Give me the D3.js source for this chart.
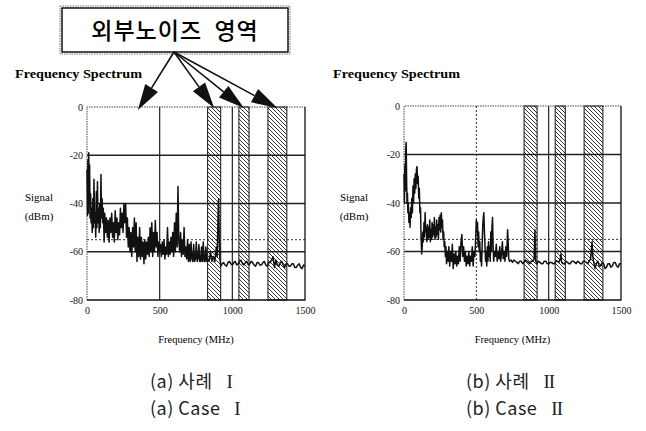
<!DOCTYPE html>
<html>
<head>
<meta charset="utf-8">
<script src="https://cdn.jsdelivr.net/npm/d3@7"></script>
<style>
  body { margin: 0; background: #fff; }
  .tick text { font-family: "Liberation Serif", serif; font-size: 10px; fill: #111; }
</style>
</head>
<body>
<div id="chart"></div>
<script>
// axis ticks
const freqTicks = [0, 500, 1000, 1500];
const dbTicks = [0, -20, -40, -60, -80];
// hatched external-noise bands (MHz)
const noiseBands = [[830, 920], [1045, 1115], [1245, 1375]];
// dotted reference level (dBm)
const refLevel = -55;
// where the arrows from the label box point (MHz, along top of left plot)
const arrowTargets = [350, 875, 1080, 1310];

// spectrum traces: [MHz, dBm]
const caseI = [
  [0,-26],[3,-45],[6,-22],[9,-44],[12,-19],[15,-40],[18,-24],[21,-46],[25,-36],[28,-48],
  [32,-42],[36,-52],[40,-38],[44,-50],[48,-30],[52,-48],[56,-44],[60,-54],[64,-35],[68,-50],
  [72,-31],[76,-48],[80,-42],[84,-52],[88,-40],[92,-50],[96,-28],[100,-46],[104,-38],[108,-48],
  [112,-42],[118,-56],[122,-44],[128,-52],[134,-46],[140,-54],[146,-47],[152,-56],[158,-46],[164,-52],
  [170,-44],[176,-54],[182,-48],[188,-56],[194,-43],[200,-52],[206,-46],[212,-55],[218,-48],[224,-53],
  [230,-42],[236,-50],[242,-44],[248,-52],[254,-40],[260,-48],[266,-40],[272,-54],[278,-46],[284,-58],
  [290,-50],[296,-60],[302,-52],[308,-62],[314,-50],[320,-58],[326,-46],[332,-60],[338,-48],[344,-64],
  [350,-54],[356,-62],[362,-50],[368,-63],[374,-54],[380,-62],[386,-56],[392,-65],[398,-55],[404,-63],
  [410,-56],[416,-61],[422,-54],[428,-62],[434,-50],[440,-60],[446,-48],[452,-62],[458,-52],[464,-60],
  [470,-47],[476,-58],[482,-52],[488,-62],[494,-56],[500,-60],[506,-57],[512,-62],[518,-56],[524,-61],
  [530,-55],[536,-63],[542,-58],[548,-61],[554,-50],[560,-62],[566,-56],[572,-61],[578,-54],[584,-60],
  [590,-52],[596,-62],[602,-48],[608,-60],[614,-44],[620,-58],[626,-33],[632,-56],[638,-60],[644,-52],
  [650,-62],[656,-55],[662,-61],[668,-50],[674,-62],[680,-58],[686,-63],[692,-55],[698,-64],[704,-57],
  [710,-64],[716,-56],[722,-63],[728,-64],[734,-57],[740,-64],[746,-63],[752,-56],[758,-64],[764,-63],
  [770,-57],[776,-64],[782,-64],[788,-58],[794,-64],[800,-56],[806,-64],[812,-64],[818,-58],[824,-64],
  [830,-63],[840,-64],[850,-60],[860,-64],[870,-62],[880,-64],[890,-58],[896,-62],[902,-44],[906,-38],
  [910,-55],[914,-62],[920,-66],[930,-65],[940,-64.5],[950,-65.5],[960,-66],[970,-64.5],[980,-64],[990,-65],
  [1000,-65.5],[1010,-64.5],[1020,-64],[1030,-65.5],[1040,-65],[1050,-64],[1060,-63.5],[1070,-65],[1080,-65.5],[1090,-64.5],
  [1100,-64],[1110,-65.5],[1120,-65],[1130,-64],[1140,-64.5],[1150,-65.5],[1160,-66],[1170,-64.5],[1180,-64.5],[1190,-65.5],
  [1200,-65.5],[1210,-64.5],[1220,-64],[1230,-65.5],[1240,-66],[1250,-64.5],[1260,-64.5],[1270,-63.5],[1280,-62],[1290,-66.5],
  [1300,-63.5],[1310,-65.5],[1320,-66],[1330,-64.5],[1340,-64],[1350,-65.5],[1360,-66.5],[1370,-65],[1380,-65],[1390,-66],
  [1400,-66],[1410,-65],[1420,-65],[1430,-66.5],[1440,-66.5],[1450,-65.5],[1460,-65],[1470,-66.5],[1480,-67],[1490,-65.5],
  [1500,-66]
];

const caseII = [
  [0,-28],[3,-40],[6,-24],[9,-35],[12,-18],[15,-15],[18,-30],[21,-40],[24,-36],[27,-44],
  [30,-40],[34,-48],[38,-44],[42,-50],[46,-42],[50,-46],[54,-38],[58,-44],[62,-33],[66,-40],
  [70,-30],[74,-36],[78,-28],[82,-34],[86,-26],[90,-25],[94,-32],[98,-29],[102,-38],[106,-34],
  [110,-44],[114,-42],[118,-54],[122,-61],[126,-58],[130,-52],[134,-56],[138,-48],[142,-54],[146,-44],
  [150,-52],[154,-50],[158,-56],[162,-49],[166,-55],[170,-50],[174,-54],[178,-47],[182,-56],[186,-51],
  [190,-55],[194,-48],[198,-54],[202,-49],[206,-53],[210,-46],[214,-55],[218,-50],[222,-54],[226,-47],
  [230,-53],[234,-49],[238,-55],[242,-46],[246,-51],[250,-45],[254,-52],[258,-44],[262,-50],[266,-47],
  [270,-55],[274,-52],[278,-58],[282,-56],[286,-62],[290,-58],[294,-65],[298,-60],[304,-64],[310,-58],
  [316,-66],[322,-60],[328,-64],[334,-57],[340,-67],[346,-61],[352,-65],[358,-60],[364,-66],[370,-62],
  [376,-65],[382,-58],[388,-64],[394,-56],[400,-53],[406,-62],[412,-58],[418,-64],[424,-60],[430,-66],
  [436,-62],[442,-65],[448,-60],[454,-66],[460,-62],[466,-64],[472,-58],[478,-66],[484,-60],[490,-62],
  [496,-54],[500,-47],[504,-52],[508,-48],[512,-58],[516,-52],[520,-60],[524,-56],[528,-64],[532,-60],
  [536,-66],[540,-58],[544,-50],[548,-46],[552,-44],[556,-52],[560,-58],[564,-64],[568,-60],[572,-66],
  [576,-58],[580,-64],[584,-56],[588,-62],[592,-58],[596,-64],[600,-52],[604,-60],[608,-50],[612,-46],
  [616,-58],[620,-64],[626,-60],[632,-62],[638,-57],[644,-64],[650,-60],[656,-63],[662,-58],[668,-64],
  [674,-61],[680,-56],[686,-63],[692,-60],[698,-64],[704,-58],[710,-62],[716,-51],[720,-56],[724,-63],
  [730,-64],[740,-63.5],[750,-64.5],[760,-63.5],[770,-64],[780,-64.5],[790,-65],[800,-64],[810,-64],[820,-65],
  [830,-64.5],[840,-63.5],[850,-64],[860,-64.5],[870,-65],[880,-64],[890,-64],[900,-63],[905,-51],[910,-64],
  [920,-65],[930,-64],[940,-64.5],[950,-65],[960,-65],[970,-64],[980,-64],[990,-65],[1000,-65],[1010,-64.5],
  [1020,-64.5],[1030,-65],[1040,-65],[1050,-64],[1060,-64],[1070,-64.5],[1080,-63],[1085,-61],[1090,-64.5],[1100,-65],
  [1110,-65],[1120,-64],[1130,-64.5],[1140,-65],[1150,-65],[1160,-64],[1170,-64],[1180,-64.5],[1190,-65],[1200,-64],
  [1210,-64.5],[1220,-65],[1230,-65],[1240,-64],[1250,-64],[1260,-64.5],[1270,-65],[1280,-64],[1290,-63],[1300,-56],
  [1305,-62],[1310,-64],[1320,-67],[1330,-65],[1340,-64],[1350,-66],[1360,-66],[1370,-64.5],[1380,-65],[1390,-67],
  [1400,-66.5],[1410,-65],[1420,-65],[1430,-66.5],[1440,-66],[1450,-64.5],[1460,-64.5],[1470,-66],[1480,-66.5],[1490,-65],
  [1500,-65]
];

const svg = d3.select('#chart')
    .append('svg')
    .attr('width', 646)
    .attr('height', 431);

const serif = '"Liberation Serif", "DejaVu Serif", serif';
const kr = '"Noto Sans CJK KR", "Noto Sans", sans-serif';

// hatch pattern for the noise bands
svg.append('defs').append('pattern')
    .attr('id', 'hatch')
    .attr('patternUnits', 'userSpaceOnUse')
    .attr('width', 4)
    .attr('height', 4)
    .append('path')
    .attr('d', 'M-1,-1L5,5M-1,3L1,5M3,-1L5,1')
    .attr('stroke', '#222')
    .attr('stroke-width', 0.9);

const panels = [
    { data: caseI, left: 87, right: 305, top: 107, bottom: 300, dotted500: false, titleX: 15,
      labelX: 39, ko: '(a) 사례', en: '(a) Case', num: 'I', capX: 150 },
    { data: caseII, left: 404, right: 621, top: 106, bottom: 300, dotted500: true, titleX: 333,
      labelX: 354, ko: '(b) 사례', en: '(b) Case', num: 'II', capX: 466 }
];

const scales = [];

panels.forEach(p => {
    const x = d3.scaleLinear().domain([0, 1500]).range([p.left, p.right]);
    const y = d3.scaleLinear().domain([-80, 0]).range([p.bottom, p.top]);
    scales.push({ x, y });
    const g = svg.append('g');

    // hatched bands
    g.selectAll('.band')
        .data(noiseBands)
        .enter().append('rect')
        .attr('x', d => x(d[0]))
        .attr('y', y(0))
        .attr('width', d => x(d[1]) - x(d[0]))
        .attr('height', y(-80) - y(0))
        .attr('fill', 'url(#hatch)')
        .attr('stroke', '#111')
        .attr('stroke-width', 1);

    // horizontal grid
    g.selectAll('.hgrid')
        .data([-20, -40, -60])
        .enter().append('line')
        .attr('x1', x(0)).attr('x2', x(1500))
        .attr('y1', d => y(d)).attr('y2', d => y(d))
        .attr('stroke', '#222')
        .attr('stroke-width', 1.4);

    g.append('line')
        .attr('x1', x(0)).attr('x2', x(1500))
        .attr('y1', y(refLevel)).attr('y2', y(refLevel))
        .attr('stroke', '#333')
        .attr('stroke-width', 1)
        .attr('stroke-dasharray', '2,2');

    // vertical grid
    g.append('line')
        .attr('x1', x(500)).attr('x2', x(500))
        .attr('y1', y(0)).attr('y2', y(-80))
        .attr('stroke', '#222')
        .attr('stroke-width', p.dotted500 ? 1 : 1.2)
        .attr('stroke-dasharray', p.dotted500 ? '2,2' : null);

    g.append('line')
        .attr('x1', x(1000)).attr('x2', x(1000))
        .attr('y1', y(0)).attr('y2', y(-80))
        .attr('stroke', '#222')
        .attr('stroke-width', 1.2);

    // frame: dotted top/left, solid right/bottom
    g.append('path')
        .attr('d', `M${x(0)},${y(-80)}V${y(0)}H${x(1500)}`)
        .attr('fill', 'none')
        .attr('stroke', '#444')
        .attr('stroke-width', 1)
        .attr('stroke-dasharray', '1.5,1');
    g.append('path')
        .attr('d', `M${x(1500)},${y(0)}V${y(-80)}H${x(0)}`)
        .attr('fill', 'none')
        .attr('stroke', '#111')
        .attr('stroke-width', 1.3);

    // spectrum trace
    g.append('path')
        .datum(p.data)
        .attr('d', d3.line().x(d => x(d[0])).y(d => y(d[1])))
        .attr('fill', 'none')
        .attr('stroke', '#111')
        .attr('stroke-width', 1.5)
        .attr('stroke-linejoin', 'round');

    // axes (labels only)
    const ya = g.append('g')
        .attr('transform', 'translate(' + x(0) + ',0)')
        .call(d3.axisLeft(y).tickValues(dbTicks).tickSize(0).tickPadding(4).tickFormat(d => String(d)));
    ya.select('.domain').remove();
    ya.selectAll('text').attr('font-family', null).attr('font-size', null);

    const xa = g.append('g')
        .attr('transform', 'translate(0,' + y(-80) + ')')
        .call(d3.axisBottom(x).tickValues(freqTicks).tickSize(0).tickPadding(7).tickFormat(d => String(d)));
    xa.select('.domain').remove();
    xa.selectAll('text').attr('font-family', null).attr('font-size', null);

    // titles and axis labels
    svg.append('text')
        .attr('x', p.titleX).attr('y', 78)
        .attr('font-family', serif).attr('font-weight', 'bold').attr('font-size', 13.5)
        .attr('textLength', 127).attr('lengthAdjust', 'spacingAndGlyphs')
        .text('Frequency Spectrum');

    svg.append('text')
        .attr('x', p.labelX).attr('y', 201)
        .attr('text-anchor', 'middle')
        .attr('font-family', serif).attr('font-size', 11)
        .text('Signal');
    svg.append('text')
        .attr('x', p.labelX).attr('y', 220)
        .attr('text-anchor', 'middle')
        .attr('font-family', serif).attr('font-size', 11)
        .text('(dBm)');

    svg.append('text')
        .attr('x', (x(0) + x(1500)) / 2).attr('y', 343)
        .attr('text-anchor', 'middle')
        .attr('font-family', serif).attr('font-size', 10.5)
        .text('Frequency (MHz)');

    // captions: Korean / English, roman numeral in serif
    [[p.ko, 388], [p.en, 415]].forEach(([t, yy]) => {
        const tx = svg.append('text')
            .attr('x', p.capX).attr('y', yy)
            .attr('font-family', kr).attr('font-size', 18).attr('fill', '#222')
            .attr('letter-spacing', 0.5);
        tx.append('tspan').text(t);
        tx.append('tspan')
            .attr('dx', 14)
            .attr('font-family', serif).attr('font-size', 19)
            .attr('letter-spacing', -1)
            .text(p.num);
    });
});

// label box with arrows pointing into the left panel
const box = { x: 62, y: 8, w: 226, h: 44 };
svg.append('rect')
    .attr('x', box.x - 2).attr('y', box.y - 2)
    .attr('width', box.w + 4).attr('height', box.h + 4)
    .attr('fill', 'none').attr('stroke', '#777').attr('stroke-width', 1)
    .attr('stroke-dasharray', '1.5,1');
svg.append('rect')
    .attr('x', box.x).attr('y', box.y)
    .attr('width', box.w).attr('height', box.h)
    .attr('fill', '#fff').attr('stroke', '#111').attr('stroke-width', 1.5);
svg.append('text')
    .attr('x', box.x + box.w / 2).attr('y', box.y + 31)
    .attr('text-anchor', 'middle')
    .attr('font-family', kr).attr('font-weight', 500).attr('font-size', 23)
    .attr('letter-spacing', 1)
    .style('white-space', 'pre')
    .text('외부노이즈  영역');

const sx = 174, sy = box.y + box.h;
const ax = scales[0].x, ay = scales[0].y;
arrowTargets.forEach((f, i) => {
    const tx = ax(f), ty = ay(0) + (i === 0 ? 3 : 1);
    const dx = tx - sx, dy = ty - sy, len = Math.hypot(dx, dy);
    const ux = dx / len, uy = dy / len;
    const hl = 26, hw = 7.5;
    const bx = tx - ux * hl, by = ty - uy * hl;
    svg.append('line')
        .attr('x1', sx).attr('y1', sy).attr('x2', bx).attr('y2', by)
        .attr('stroke', '#111').attr('stroke-width', 1.6);
    svg.append('path')
        .attr('d', `M${tx},${ty}L${bx - uy * hw},${by + ux * hw}L${bx + uy * hw},${by - ux * hw}Z`)
        .attr('fill', '#111');
});
</script>
</body>
</html>
